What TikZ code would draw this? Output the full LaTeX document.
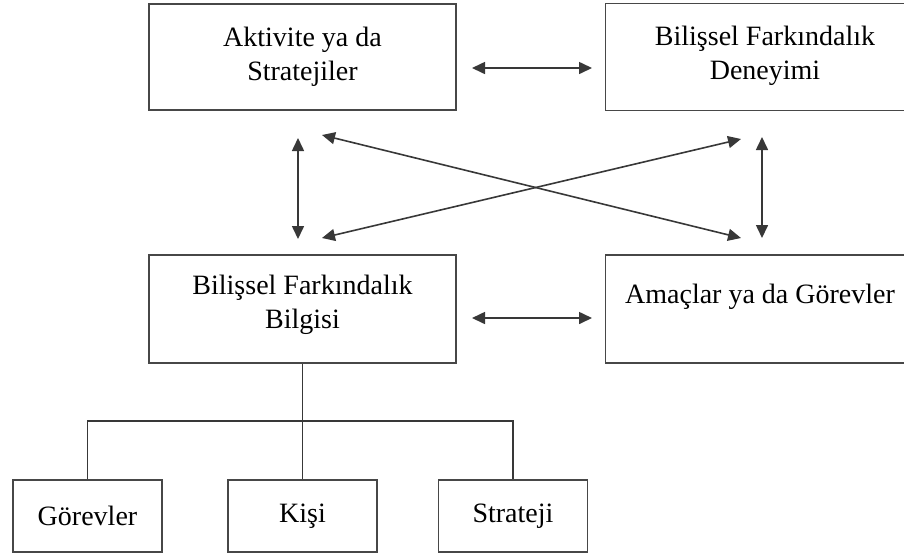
\documentclass[tikz,border=0pt]{standalone}
\usepackage{fontspec}
\setmainfont{Liberation Serif}
\usetikzlibrary{arrows.meta}
\begin{document}
\begin{tikzpicture}[x=1pt,y=-1pt,
  txt/.style={font=\fontsize{28}{34}\selectfont,align=center,inner sep=0pt},
  bigbox/.style={draw=black!72,line width=1.8pt,fill=white,minimum width=307pt,inner sep=0pt},
  smallbox/.style={draw=black!72,line width=1.8pt,fill=white,minimum width=149pt,minimum height=72pt,inner sep=0pt,font=\fontsize{28}{34}\selectfont},
  link/.style={draw=black!78,line width=1.6pt},
  biarrow/.style={link,{Triangle[length=13pt,width=12pt]}-{Triangle[length=13pt,width=12pt]}}]
\useasboundingbox (0,0) rectangle (904,558);
% main boxes
\node[bigbox,minimum height=106pt] (act) at (302.5,57) {};
\node[txt] (acttext) at (302.5,57) {Aktivite ya da\\Stratejiler};
\node[bigbox,minimum height=107pt] (den) at (759,57) {};
\node[txt] (dentext) at (765,56) {Bilişsel Farkındalık\\Deneyimi};
\node[bigbox,minimum height=108pt] (bil) at (302.5,309) {};
\node[txt] (biltext) at (302.5,305) {Bilişsel Farkındalık\\Bilgisi};
\node[bigbox,minimum height=108pt] (ama) at (759,309) {};
\node[txt] (amatext) at (760,297) {Amaçlar ya da Görevler};
% bottom boxes
\node[smallbox] (gor) at (87.5,516) {Görevler};
\node[smallbox] (kis) at (302.5,516) {Kişi};
\node[smallbox] (str) at (513,516) {Strateji};
% tree connectors
\coordinate (hy) at (300,421);
\draw[link] (bil.south) -- (kis.north);
\draw[link] (gor.north) -- (gor.north |- hy) -- (str.north |- hy) -- (str.north);
% arrow end points
\coordinate (t1) at (472,68); \coordinate (t2) at (592,68);
\coordinate (m1) at (472,318); \coordinate (m2) at (592,318);
\coordinate (l1) at (298,138); \coordinate (l2) at (298,239);
\coordinate (r1) at (762,137); \coordinate (r2) at (762,238);
\coordinate (d1) at (322,135); \coordinate (d2) at (741,238);
\coordinate (e1) at (322,238); \coordinate (e2) at (741,139);
\draw[biarrow] (t1) -- (t2);
\draw[biarrow] (m1) -- (m2);
\draw[biarrow] (l1) -- (l2);
\draw[biarrow] (r1) -- (r2);
\draw[biarrow] (d1) -- (d2);
\draw[biarrow] (e1) -- (e2);
\end{tikzpicture}
\end{document}
